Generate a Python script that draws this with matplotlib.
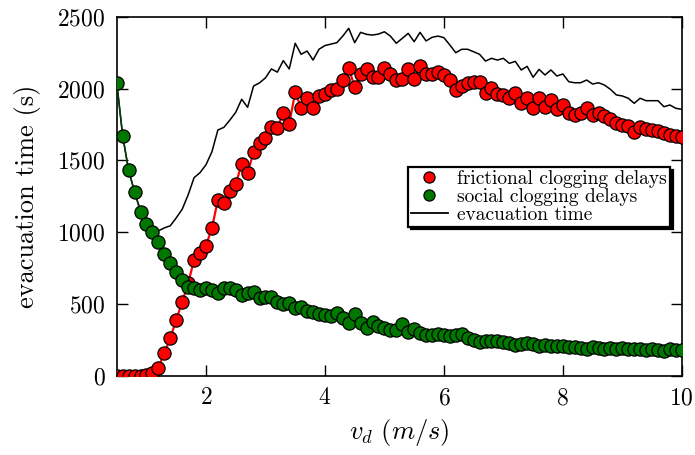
import matplotlib
matplotlib.use('Agg')
import matplotlib.pyplot as plt
import numpy as np

plt.rcParams['font.family'] = 'serif'
plt.rcParams['font.serif'] = ['cmr10', 'DejaVu Serif']
plt.rcParams['mathtext.fontset'] = 'cm'
plt.rcParams['axes.formatter.use_mathtext'] = True

# desired velocity grid (m/s), step 0.1 from 0.5 to 10
v_d = np.arange(5, 101) / 10

frictional = [
    0, 0, 0, 0, 0, 5, 20, 58, 158, 262,
    390, 513, 645, 807, 858, 907, 1028, 1225, 1206, 1290,
    1336, 1473, 1415, 1557, 1624, 1654, 1735, 1728, 1828, 1754,
    1974, 1867, 1933, 1867, 1951, 1963, 1990, 1995, 2060, 2146,
    2009, 2102, 2135, 2083, 2083, 2146, 2102, 2060, 2067, 2137,
    2067, 2160, 2100, 2102, 2118, 2095, 2060, 1991, 2020, 2037,
    2044, 2044, 1967, 2002, 1960, 1956, 1933, 1967, 1898, 1933,
    1863, 1933, 1870, 1921, 1856, 1886, 1828, 1817, 1828, 1863,
    1817, 1828, 1810, 1789, 1763, 1747, 1740, 1700, 1735, 1717,
    1712, 1705, 1689, 1677, 1670, 1661,
]

social = [
    2040, 1670, 1430, 1280, 1140, 1056, 1000, 930, 850, 785,
    720, 665, 620, 610, 600, 615, 600, 575, 612, 610,
    595, 565, 575, 585, 540, 548, 550, 517, 500, 510,
    470, 480, 450, 443, 432, 425, 420, 436, 400, 367,
    430, 371, 336, 378, 350, 336, 320, 320, 360, 308,
    327, 297, 281, 285, 290, 285, 274, 285, 292, 262,
    250, 239, 244, 240, 246, 239, 228, 216, 223, 228,
    222, 210, 215, 205, 210, 205, 198, 200, 195, 190,
    200, 195, 188, 192, 185, 195, 190, 185, 190, 180,
    185, 178, 175, 185, 178, 180,
]

evac_time = [
    2040, 1670, 1430, 1280, 1150, 1065, 1015, 1010, 1030, 1045,
    1100, 1160, 1260, 1380, 1415, 1470, 1560, 1712, 1730, 1780,
    1835, 1926, 1870, 2018, 2040, 2075, 2137, 2115, 2195, 2137,
    2316, 2239, 2262, 2199, 2274, 2300, 2310, 2320, 2366, 2420,
    2320, 2392, 2378, 2373, 2380, 2396, 2366, 2316, 2350, 2385,
    2327, 2392, 2332, 2357, 2366, 2355, 2304, 2250, 2274, 2274,
    2257, 2239, 2192, 2211, 2199, 2211, 2176, 2190, 2130, 2155,
    2079, 2134, 2095, 2130, 2088, 2102, 2048, 2041, 2041, 2060,
    2032, 2041, 2025, 1995, 1956, 1949, 1933, 1898, 1933, 1916,
    1916, 1916, 1874, 1886, 1863, 1856,
]

fig = plt.figure(figsize=(6.95, 4.55), dpi=100)
ax = fig.add_axes([0.168, 0.174, 0.813, 0.789])

ax.plot(v_d, evac_time, color='black', lw=1.1, zorder=2)
ax.plot(v_d, frictional, color='red', lw=1.6, zorder=3)
ax.plot(v_d, frictional, 'o', color='red', mec='black', mew=0.9, ms=9.5, zorder=4)
ax.plot(v_d, social, color='#003f00', lw=1.1, zorder=5)
ax.plot(v_d, social, 'o', color='#007800', mec='black', mew=0.9, ms=9.5, zorder=6)

# legend handles (markers only for the two delay series)
h1, = ax.plot([], [], 'o', color='red', mec='black', mew=0.9, ms=8)
h2, = ax.plot([], [], 'o', color='#007800', mec='black', mew=0.9, ms=8)
h3, = ax.plot([], [], color='black', lw=1.3)
leg = ax.legend([h1, h2, h3],
                ['frictional clogging delays', 'social clogging delays', 'evacuation time'],
                loc='upper left', bbox_to_anchor=(0.515, 0.582), fontsize=14,
                numpoints=1, handlelength=1.9, handletextpad=0.5, labelspacing=0.0,
                borderpad=0.15, borderaxespad=0, fancybox=False, framealpha=1,
                edgecolor='black', shadow={'color': 'black', 'alpha': 1})
leg.get_frame().set_linewidth(1.6)

ax.set_xlim(0.5, 10)
ax.set_ylim(0, 2500)
ax.set_xticks([2, 4, 6, 8, 10])
ax.set_yticks([0, 500, 1000, 1500, 2000, 2500])
ax.tick_params(direction='in', length=8, width=1, top=True, right=True,
               labelsize=17, pad=8)
for s in ax.spines.values():
    s.set_linewidth(1.2)

ax.set_xlabel(r'$v_d\ (m/s)$', fontsize=19, labelpad=6)
ax.set_ylabel('evacuation time (s)', fontsize=19, labelpad=12)

fig.savefig('out.png', dpi=100)
